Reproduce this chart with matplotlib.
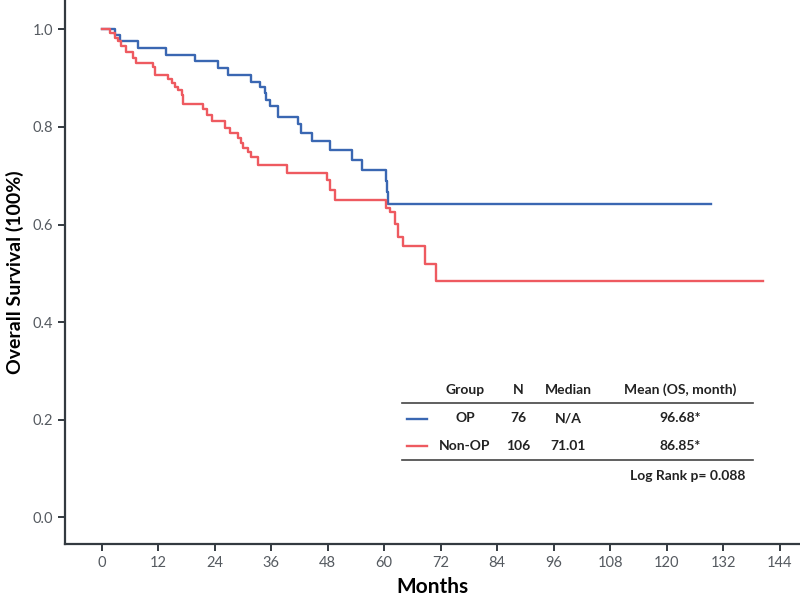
import matplotlib
matplotlib.use("Agg")
import matplotlib.pyplot as plt

# Kaplan-Meier steps (months, survival after each drop)
op_months = [0, 2.8, 3.9, 7.8, 13.7, 19.8, 24.8, 26.8, 31.8, 33.6, 34.7, 35.0,
             35.8, 37.5, 41.7, 42.4, 44.6, 48.5, 53.1, 55.3, 60.4, 60.6, 60.8, 129.5]
op_surv = [1.0, 0.988, 0.975, 0.961, 0.947, 0.934, 0.920, 0.906, 0.893, 0.882, 0.869, 0.855,
           0.842, 0.821, 0.805, 0.788, 0.771, 0.753, 0.733, 0.712, 0.690, 0.667, 0.643, 0.643]

nonop_months = [0, 1.8, 2.8, 3.5, 4.2, 5.3, 6.7, 7.4, 10.9, 11.3, 14.1, 14.9, 15.6, 16.3,
                17.0, 17.2, 21.6, 22.3, 23.4, 26.2, 27.2, 29.0, 29.7, 30.1, 31.1, 31.8,
                33.2, 39.3, 47.8, 48.5, 49.5, 60.5, 61.2, 62.3, 63.0, 64.0, 68.6, 71.1, 140.5]
nonop_surv = [1.0, 0.992, 0.983, 0.975, 0.966, 0.954, 0.942, 0.930, 0.923, 0.906, 0.898, 0.889,
              0.882, 0.876, 0.865, 0.847, 0.836, 0.825, 0.812, 0.797, 0.787, 0.777, 0.766,
              0.756, 0.749, 0.739, 0.722, 0.706, 0.691, 0.671, 0.650, 0.633, 0.626, 0.602,
              0.575, 0.555, 0.520, 0.484, 0.484]

x_ticks = [0, 12, 24, 36, 48, 60, 72, 84, 96, 108, 120, 132, 144]
y_ticks = [0.0, 0.2, 0.4, 0.6, 0.8, 1.0]

header = ["Group", "N", "Median", "Mean (OS, month)"]
rows = [["OP", "76", "N/A", "96.68*"],
        ["Non-OP", "106", "71.01", "86.85*"]]
log_rank = "Log Rank p= 0.088"

blue = "#3a67b2"
red = "#ee5a60"
dark = "#333a40"

plt.rcParams['font.family'] = ['Lato', 'DejaVu Sans']

fig = plt.figure(figsize=(8, 6), dpi=100)
ax = fig.add_axes([0.081, 0.093, 0.919, 0.907])

ax.step(op_months, op_surv, where='post', color=blue, lw=1.7)
ax.step(nonop_months, nonop_surv, where='post', color=red, lw=1.7)

ax.set_xlim(-7.8, 148.3)
ax.set_ylim(-0.055, 1.06)
ax.set_xticks(x_ticks)
ax.set_yticks(y_ticks)
ax.set_yticklabels(["%.1f" % v for v in y_ticks])

for s in ['top', 'right']:
    ax.spines[s].set_visible(False)
for s in ['left', 'bottom']:
    ax.spines[s].set_color(dark)
    ax.spines[s].set_linewidth(1.6)
ax.tick_params(colors=dark, labelcolor="#555a60", labelsize=10.5, width=1.4, length=5)

ax.set_xlabel("Months", fontsize=15, fontweight='bold', labelpad=5)
ax.set_ylabel("Overall Survival (100%)", fontsize=14, fontweight='bold', labelpad=6)

# summary table inside the plot
col_x = [465, 518, 568, 680]
def fx(px):
    return px / 800.0
def fy(py):
    return 1 - py / 600.0

for cx, txt in zip(col_x, header):
    fig.text(fx(cx), fy(390), txt, ha='center', va='center', fontsize=10,
             fontweight='bold', color='#222222')
fig.add_artist(plt.Line2D([fx(402), fx(753)], [fy(403), fy(403)], color='#444444', lw=1.2))
for r, (row, col) in enumerate(zip(rows, [blue, red])):
    yy = fy(418.5 + r * 27.5)
    fig.add_artist(plt.Line2D([fx(407), fx(427)], [yy, yy], color=col, lw=1.7))
    for cx, txt in zip(col_x, row):
        fig.text(fx(cx), yy, txt, ha='center', va='center', fontsize=10,
                 fontweight='bold', color='#222222')
fig.add_artist(plt.Line2D([fx(402), fx(753)], [fy(459.5), fy(459.5)], color='#444444', lw=1.2))
fig.text(fx(745), fy(476), log_rank, ha='right', va='center', fontsize=10,
         fontweight='bold', color='#222222')

fig.savefig("out.png", dpi=100)
